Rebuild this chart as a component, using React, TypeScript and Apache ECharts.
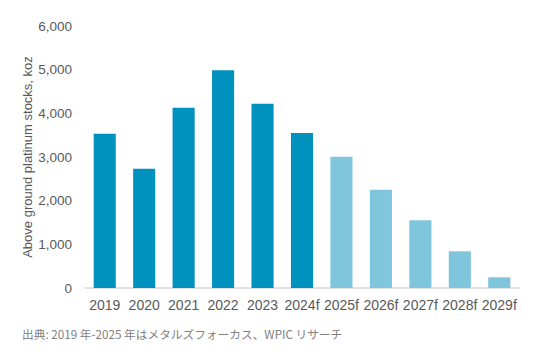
import React, { useEffect, useRef } from "react";
import * as echarts from "echarts";

const categories = ["2019", "2020", "2021", "2022", "2023", "2024f", "2025f", "2026f", "2027f", "2028f", "2029f"];
const values = [3530, 2730, 4130, 4985, 4220, 3550, 3005, 2250, 1550, 840, 245];
const forecastFlags = [false, false, false, false, false, false, true, true, true, true, true];
const yTicks = { min: 0, max: 6000, interval: 1000 };
const yAxisName = "Above ground platinum stocks, koz";
const sourceNote = "出典: 2019 年-2025 年はメタルズフォーカス、WPIC リサーチ";

const DARK = "#0092BF";
const LIGHT = "#7FC6DD";

export default function App() {
  const ref = useRef<HTMLDivElement>(null);
  useEffect(() => {
    if (!ref.current) return;
    const chart = echarts.init(ref.current, undefined, { renderer: "svg" });
    chart.setOption({
      animation: false,
      backgroundColor: "#ffffff",
      grid: { left: 85, right: 21, top: 26, bottom: 73, containLabel: false },
      xAxis: {
        type: "category",
        data: categories,
        axisLine: { lineStyle: { color: "#D9D9D9", width: 1.5 } },
        axisTick: { show: false },
        axisLabel: {
          color: "#595959",
          fontSize: 14,
          fontFamily: "Liberation Sans, Arial, sans-serif",
          margin: 10,
          interval: 0,
        },
      },
      yAxis: {
        type: "value",
        min: yTicks.min,
        max: yTicks.max,
        interval: yTicks.interval,
        splitLine: { show: false },
        axisLine: { show: false },
        axisTick: { show: false },
        axisLabel: {
          color: "#595959",
          fontSize: 13.5,
          fontFamily: "Liberation Sans, Arial, sans-serif",
          margin: 13,
          formatter: (v: number) => v.toLocaleString("en-US"),
        },
        name: yAxisName,
        nameLocation: "middle",
        nameRotate: 90,
        nameGap: 51,
        nameMoveOverlap: false,
        nameTextStyle: {
          color: "#595959",
          fontSize: 13,
          fontFamily: "Liberation Sans, Arial, sans-serif",
        },
      },
      series: [
        {
          type: "bar",
          barWidth: "56%",
          data: values.map((v, i) => ({
            value: v,
            itemStyle: { color: forecastFlags[i] ? LIGHT : DARK },
          })),
        },
      ],
      graphic: [
        {
          type: "text",
          left: 22,
          top: 328,
          style: {
            text: sourceNote,
            fill: "#808080",
            fontSize: 11.7,
            fontFamily: "Noto Sans CJK JP, sans-serif",
          },
        },
      ],
    });
    return () => chart.dispose();
  }, []);
  return <div ref={ref} style={{ width: 540, height: 361, margin: -8 }} />;
}
